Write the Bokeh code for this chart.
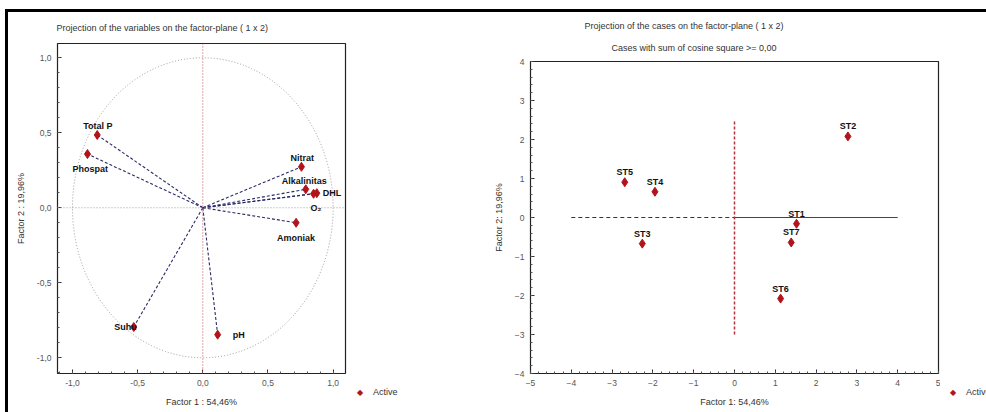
from bokeh.plotting import figure
from bokeh.models import FixedTicker, Span, Title, Range1d, ColumnDataSource, Div
from bokeh.layouts import row, column
from bokeh.embed import file_html
from bokeh.resources import INLINE
from bokeh.core.properties import value

# ---------------- data ----------------
var_names = ["Total P", "Phospat", "Nitrat", "Alkalinitas", "DHL", "O\u2082", "Amoniak", "Suhu", "pH"]
var_f1 = [-0.81, -0.885, 0.757, 0.79, 0.875, 0.85, 0.716, -0.53, 0.114]
var_f2 = [0.485, 0.358, 0.273, 0.123, 0.097, 0.093, -0.10, -0.795, -0.846]

case_names = ["ST1", "ST2", "ST3", "ST4", "ST5", "ST6", "ST7"]
case_f1 = [1.52, 2.78, -2.26, -1.95, -2.69, 1.13, 1.39]
case_f2 = [-0.16, 2.08, -0.67, 0.66, 0.905, -2.08, -0.64]

legend_label = "Active"

left_ticks = [-1.0, -0.5, 0.0, 0.5, 1.0]
left_tick_labels = ["-1,0", "-0,5", "0,0", "0,5", "1,0"]
right_xticks = [-5, -4, -3, -2, -1, 0, 1, 2, 3, 4, 5]
right_yticks = [-4, -3, -2, -1, 0, 1, 2, 3, 4]

# reference lines of the case plot
hline_dash_x = [-4, 0]
hline_solid_x = [0, 4]
hline_y = [0, 0]
vline_x = [0, 0]
vline_y = [-3, 2.5]

# label placement (layout only)
var_dx = [-14, -15, -11, -24, 6, -3, -19, 3, 15]
var_dy = [-9, 15, -9, -8, 0, 14, 15, 0, 0]
var_align = ["left", "left", "left", "left", "left", "left", "left", "right", "left"]

FONT = "Liberation Sans"
RED = "#b3141c"
LINE = "#2a2a66"
H = 400


def frange(a, b, step):
    out = []
    v = a
    while v <= b + 1e-9:
        out.append(round(v, 4))
        v += step
    return out


def style_axis(ax, ticks, minor, overrides=None):
    ax.ticker = FixedTicker(ticks=ticks, minor_ticks=minor)
    if overrides:
        ax.major_label_overrides = overrides
    ax.axis_line_color = None
    ax.major_tick_in = 4
    ax.major_tick_out = 0
    ax.minor_tick_in = 2
    ax.minor_tick_out = 0
    ax.major_tick_line_color = "#333333"
    ax.minor_tick_line_color = "#555555"
    ax.major_label_text_font = FONT
    ax.major_label_text_font_size = "8.5px"
    ax.major_label_text_color = "#555555"
    ax.major_label_standoff = 6
    ax.axis_label_text_font = FONT
    ax.axis_label_text_font_size = "9px"
    ax.axis_label_text_font_style = "normal"
    ax.axis_label_text_color = "#333333"
    ax.axis_label_standoff = 8


def legend_div(width, left_pad):
    html = ('<div style="height:375px"></div>'
            '<div style="white-space:nowrap;margin-left:%dpx;font-family:\'Liberation Sans\';'
            'font-size:9px;line-height:11px;color:#333333">'
            '<span style="display:inline-block;width:16px;color:%s;font-family:\'DejaVu Sans\';'
            'font-size:8px">&#9670;</span>%s</div>') % (left_pad, RED, legend_label)
    return Div(text=html, width=width, height=H, margin=0,
               styles={"overflow": "hidden"})


# ---------------- left: variables ----------------
p1 = figure(width=342, height=H, output_backend="svg", toolbar_location=None,
            x_range=Range1d(-1.115, 1.095), y_range=Range1d(-1.105, 1.095),
            min_border_left=49, min_border_right=5, min_border_top=31, min_border_bottom=39,
            x_axis_label="Factor 1 : 54,46%", y_axis_label="Factor 2 : 19,96%", align="start")
p1.title.text = "Projection of the variables on the factor-plane (  1 x   2)"
p1.title.align = "left"
p1.title.offset = -1
p1.title.text_font = FONT
p1.title.text_font_size = "9px"
p1.title.text_font_style = "normal"
p1.title.text_color = "#333333"
p1.title.padding = dict(left=0, right=0, top=0, bottom=6)
p1.grid.visible = False
p1.outline_line_color = "#222222"
p1.outline_line_width = 1.2

ov = dict(zip(left_ticks, left_tick_labels))
style_axis(p1.xaxis[0], left_ticks, frange(-1.1, 1.1, 0.1), ov)
style_axis(p1.yaxis[0], left_ticks, frange(-1.1, 1.1, 0.1), ov)

p1.ellipse(x=0, y=0, width=2, height=2, fill_color=None, line_color="#9a9a9a",
           line_dash="1 2", line_width=1)
p1.add_layout(Span(location=0, dimension="height", line_color="#c04a5a", line_dash="1 2", line_width=1))
p1.add_layout(Span(location=0, dimension="width", line_color="#a89a9c", line_dash="1 2", line_width=1))

src1 = ColumnDataSource(dict(x=var_f1, y=var_f2, name=var_names,
                             x0=[0] * len(var_f1), y0=[0] * len(var_f1),
                             dx=var_dx, dy=var_dy, al=var_align))
p1.segment(x0="x0", y0="y0", x1="x", y1="y", source=src1, line_color=LINE,
           line_dash="3 2", line_width=1.1)
p1.scatter(x="x", y="y", source=src1, marker="diamond", size=9,
           fill_color=RED, line_color=RED)
p1.text(x="x", y="y", text="name", source=src1, x_offset="dx", y_offset="dy",
        text_align="al", text_baseline="middle", text_font=value(FONT),
        text_font_size="9px", text_font_style="bold", text_color="#111111")

leg1 = legend_div(140, 7)

# ---------------- right: cases ----------------
p2 = figure(width=450, height=H, output_backend="svg", toolbar_location=None,
            x_range=Range1d(-5, 5), y_range=Range1d(-4, 4),
            min_border_left=32, min_border_right=2, min_border_top=49, min_border_bottom=39,
            x_axis_label="Factor 1: 54,46%", y_axis_label="Factor 2: 19,96%", align="start")
p2.title.text = "Projection of the cases on the factor-plane (  1 x   2)"
p2.title.align = "left"
p2.title.offset = 54
p2.title.text_font = FONT
p2.title.text_font_size = "9px"
p2.title.text_font_style = "normal"
p2.title.text_color = "#333333"
p2.add_layout(Title(text="Cases with sum of cosine square >=  0,00", align="left",
                    offset=81, text_font=FONT, text_font_size="9px", text_font_style="normal",
                    text_color="#333333", padding=dict(left=0, right=0, top=0, bottom=4)), "above")
p2.grid.visible = False
p2.outline_line_color = "#222222"
p2.outline_line_width = 1.2

style_axis(p2.xaxis[0], right_xticks, frange(-5, 5, 0.2))
style_axis(p2.yaxis[0], right_yticks, frange(-4, 4, 0.2))

p2.line(x=hline_dash_x, y=hline_y, line_color="#333333", line_dash="4 3", line_width=1)
p2.line(x=hline_solid_x, y=hline_y, line_color="#444444", line_width=1)
p2.line(x=vline_x, y=vline_y, line_color="#b03040", line_dash="3 2", line_width=1.5)

src2 = ColumnDataSource(dict(x=case_f1, y=case_f2, name=case_names))
p2.scatter(x="x", y="y", source=src2, marker="diamond", size=9,
           fill_color=RED, line_color=RED)
p2.text(x="x", y="y", text="name", source=src2, y_offset=-10,
        text_align="center", text_baseline="middle", text_font=value(FONT),
        text_font_size="9px", text_font_style="bold", text_color="#111111")

leg2 = legend_div(46, 10)

layout = row(column(p1), leg1, column(p2), leg2, margin=(9, 0, 0, 5),
             styles={"border-top": "3px solid black", "border-left": "3px solid black"})

open("out.html", "w").write(file_html(layout, INLINE))
